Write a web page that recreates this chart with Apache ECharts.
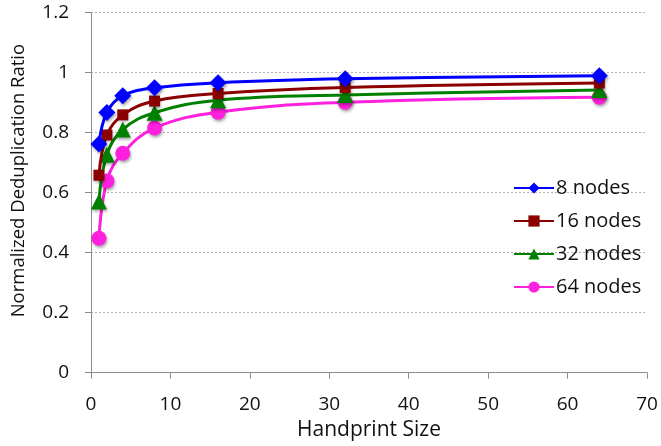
<!DOCTYPE html>
<html>
<head>
<meta charset="utf-8">
<script src="https://cdn.jsdelivr.net/npm/echarts@6/dist/echarts.min.js"></script>
<style>html,body{margin:0;padding:0;background:#fff}#c{width:661px;height:446px}</style>
</head>
<body>
<div id="c"></div>
<script>
const handprintSizes = [1, 2, 4, 8, 16, 32, 64];
const seriesNames = ['8 nodes', '16 nodes', '32 nodes', '64 nodes'];
const nodes8  = [0.762, 0.867, 0.923, 0.949, 0.966, 0.979, 0.989];
const nodes16 = [0.658, 0.792, 0.859, 0.905, 0.930, 0.950, 0.965];
const nodes32 = [0.570, 0.726, 0.810, 0.866, 0.908, 0.925, 0.942];
const nodes64 = [0.448, 0.639, 0.731, 0.815, 0.868, 0.901, 0.918];
const xTicks = [0, 10, 20, 30, 40, 50, 60, 70];
const yTicks = [0, 0.2, 0.4, 0.6, 0.8, 1, 1.2];

const colors = ['#0000ff', '#8b0000', '#008000', '#ff1fde'];
const symbols = ['diamond', 'rect', 'triangle', 'circle'];
const sizes = [17, 11, 16, 15];
const values = [nodes8, nodes16, nodes32, nodes64];
const font = '"Open Sans", "DejaVu Sans", sans-serif';

const chart = echarts.init(document.getElementById('c'));
chart.setOption({
  animation: false,
  backgroundColor: '#fff',
  grid: { left: 91, right: 14, top: 12.5, bottom: 73.3, containLabel: false },
  legend: {
    orient: 'vertical',
    left: 508, top: 173,
    itemWidth: 40, itemHeight: 14, itemGap: 13,
    textStyle: { fontFamily: font, fontSize: 20, color: '#111', padding: [0, 0, 0, -3] },
    data: seriesNames
  },
  xAxis: {
    type: 'value', min: xTicks[0], max: xTicks[xTicks.length - 1], interval: 10,
    name: 'Handprint Size', nameLocation: 'middle', nameGap: 47,
    nameTextStyle: { fontFamily: font, fontSize: 21, color: '#111' },
    axisLine: { lineStyle: { color: '#8c8c8c', width: 1 } },
    axisTick: { show: true, length: 6, lineStyle: { color: '#8c8c8c' } },
    axisLabel: { fontFamily: font, fontSize: 19, color: '#111', margin: 22 },
    splitLine: { show: false }
  },
  yAxis: {
    type: 'value', min: yTicks[0], max: yTicks[yTicks.length - 1], interval: 0.2,
    name: 'Normalized Deduplication Ratio', nameLocation: 'middle', nameGap: 63,
    nameTextStyle: { fontFamily: font, fontSize: 18.5, color: '#111', padding: [0, 0, 0, 24] },
    axisLine: { show: true, lineStyle: { color: '#8c8c8c', width: 1 } },
    axisTick: { show: true, length: 6, lineStyle: { color: '#8c8c8c' } },
    axisLabel: { fontFamily: font, fontSize: 19, color: '#111', margin: 22,
      formatter: v => String(Math.round(v * 10) / 10) },
    splitLine: { show: true, lineStyle: { color: '#b0b0b0', type: [2, 2], width: 1 } }
  },
  series: seriesNames.map((n, i) => ({
    name: n, type: 'line', smooth: 0.4,
    data: handprintSizes.map((x, j) => [x, values[i][j]]),
    symbol: symbols[i], symbolSize: sizes[i], showSymbol: true,
    lineStyle: { color: colors[i], width: 3 },
    itemStyle: { color: colors[i], shadowBlur: 3, shadowColor: 'rgba(0,0,0,0.35)', shadowOffsetX: 1, shadowOffsetY: 2 },
    z: 10 - i
  }))
});
</script>
</body>
</html>
